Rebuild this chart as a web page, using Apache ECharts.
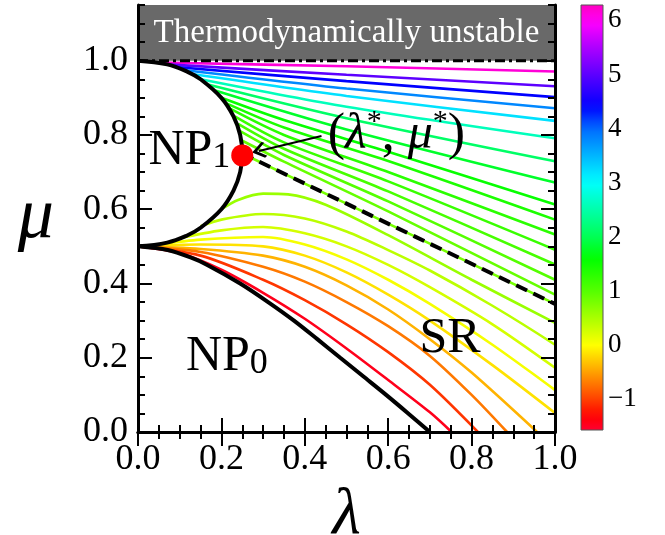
<!DOCTYPE html>
<html>
<head>
<meta charset="utf-8">
<script src="https://cdn.jsdelivr.net/npm/echarts@6/dist/echarts.min.js"></script>
<style>
html, body { margin: 0; padding: 0; background: #fff; }
#chart { width: 665px; height: 535px; }
</style>
</head>
<body>
<div id="chart"></div>
<script>
// colour value of every curve, on the colour bar scale
var upperValues = [6.15, 5.0, 4.4, 3.8, 3.2, 2.6, 2.1, 1.8, 1.55, 1.4, 1.3, 1.2, 1.1, 1.0, 0.9, 0.8];
var upperCurves = [
  [[0.05, 0.995], [0.5, 0.985], [1, 0.971]],
  [[0.07, 0.99], [0.5, 0.962], [1, 0.931]],
  [[0.09, 0.983], [0.5, 0.945], [1, 0.902]],
  [[0.11, 0.975], [0.5, 0.925], [1, 0.872]],
  [[0.13, 0.964], [0.5, 0.905], [1, 0.838]],
  [[0.15, 0.95], [0.5, 0.876], [1, 0.791]],
  [[0.17, 0.935], [0.5, 0.845], [1, 0.729]],
  [[0.185, 0.92], [0.5, 0.815], [1, 0.672]],
  [[0.2, 0.9], [0.35, 0.84], [0.6, 0.755], [1, 0.613]],
  [[0.212, 0.885], [0.35, 0.82], [0.6, 0.73], [1, 0.572]],
  [[0.222, 0.87], [0.35, 0.8], [0.6, 0.7], [1, 0.532]],
  [[0.232, 0.85], [0.35, 0.78], [0.6, 0.675], [1, 0.491]],
  [[0.24, 0.83], [0.35, 0.763], [0.6, 0.648], [1, 0.451]],
  [[0.245, 0.81], [0.35, 0.746], [0.6, 0.621], [1, 0.41]],
  [[0.249, 0.785], [0.35, 0.728], [0.6, 0.594], [1, 0.37]],
  [[0.25, 0.75], [0.6, 0.561], [1, 0.345]]
];
var lowerValues = [0.6, 0.4, 0.25, 0.05, -0.15, -0.4, -0.7, -1.05, -1.45];
var lowerCurves = [
  [[0.2, 0.6], [0.24, 0.625], [0.3, 0.642], [0.36, 0.64], [0.45, 0.612], [0.6, 0.53], [0.8, 0.41], [1, 0.294]],
  [[0.15, 0.554], [0.2, 0.572], [0.3, 0.587], [0.4, 0.575], [0.5, 0.54], [0.6, 0.49], [0.7, 0.435], [0.85, 0.34], [1, 0.235]],
  [[0.1, 0.522], [0.2, 0.543], [0.3, 0.552], [0.4, 0.535], [0.5, 0.5], [0.6, 0.45], [0.7, 0.39], [0.85, 0.29], [1, 0.173]],
  [[0.05, 0.505], [0.15, 0.518], [0.3, 0.525], [0.4, 0.505], [0.5, 0.465], [0.6, 0.41], [0.7, 0.345], [0.85, 0.235], [1, 0.113]],
  [[0, 0.5], [0.15, 0.505], [0.3, 0.5], [0.4, 0.475], [0.5, 0.43], [0.6, 0.37], [0.7, 0.3], [0.85, 0.18], [1, 0.051]],
  [[0, 0.5], [0.15, 0.493], [0.3, 0.475], [0.4, 0.445], [0.5, 0.395], [0.6, 0.33], [0.7, 0.25], [0.8, 0.16], [0.957, 0]],
  [[0, 0.5], [0.15, 0.485], [0.3, 0.445], [0.4, 0.405], [0.5, 0.35], [0.6, 0.285], [0.7, 0.205], [0.8, 0.1], [0.885, 0]],
  [[0, 0.5], [0.15, 0.475], [0.3, 0.41], [0.4, 0.355], [0.5, 0.29], [0.6, 0.215], [0.7, 0.127], [0.815, 0]],
  [[0, 0.5], [0.1, 0.482], [0.2, 0.437], [0.3, 0.375], [0.4, 0.305], [0.5, 0.225], [0.6, 0.14], [0.7, 0.053], [0.752, 0]]
];
var np1Boundary = [[0, 1], [0.07, 0.99], [0.119, 0.97], [0.15, 0.95], [0.2, 0.9], [0.229, 0.85], [0.245, 0.8],
  [0.25, 0.75], [0.245, 0.7], [0.229, 0.65], [0.2, 0.6], [0.15, 0.55], [0.119, 0.53], [0.07, 0.51], [0, 0.5]];
var np0Boundary = [[0, 0.5], [0.071, 0.49], [0.126, 0.47], [0.166, 0.45], [0.245, 0.4], [0.312, 0.35], [0.374, 0.3],
  [0.43, 0.25], [0.485, 0.2], [0.54, 0.15], [0.595, 0.1], [0.648, 0.05], [0.7, 0]];
var criticalLine = [[0.25, 0.75], [1, 0.345]];
var criticalPoint = [[0.25, 0.745]];
var unstableLine = [[0, 1], [1, 1]];
var unstableTop = 1.15;
var yMajorTicks = [0, 0.2, 0.4, 0.6, 0.8, 1.0];
var colorRange = [-Math.PI / 2, 2 * Math.PI];
var colorbarTicks = [-1, 0, 1, 2, 3, 4, 5, 6];

// colour map (hue along the colour bar)
var hueKnots = [[-1.571, -12], [-1, 15], [0, 60], [1, 100], [1.6, 120], [2, 140], [3, 180], [4, 215],
  [4.4, 240], [5, 262], [5.6, 285], [6.283, 315]];
function hueOf(v) {
  if (v <= hueKnots[0][0]) return hueKnots[0][1];
  for (var i = 1; i < hueKnots.length; i++) {
    if (v <= hueKnots[i][0]) {
      var a = hueKnots[i - 1], b = hueKnots[i];
      return a[1] + (b[1] - a[1]) * (v - a[0]) / (b[0] - a[0]);
    }
  }
  return hueKnots[hueKnots.length - 1][1];
}
function colormap(v) {
  var h = ((hueOf(v) % 360) + 360) % 360 / 60;
  var x = 1 - Math.abs(h % 2 - 1);
  var rgb = h < 1 ? [1, x, 0] : h < 2 ? [x, 1, 0] : h < 3 ? [0, 1, x] : h < 4 ? [0, x, 1] : h < 5 ? [x, 0, 1] : [1, 0, x];
  return 'rgb(' + rgb.map(function (c) { return Math.round(c * 255); }).join(',') + ')';
}

var serif = 'Liberation Serif';
var series = [];
upperCurves.forEach(function (c, i) {
  series.push({ type: 'line', data: c, showSymbol: false, smooth: 0.3, silent: true,
    lineStyle: { color: colormap(upperValues[i]), width: 2.6 } });
});
lowerCurves.forEach(function (c, i) {
  series.push({ type: 'line', data: c, showSymbol: false, smooth: 0.3, silent: true,
    lineStyle: { color: colormap(lowerValues[i]), width: 2.6 } });
});
series.push({ type: 'line', data: np1Boundary, showSymbol: false, smooth: 0.4, silent: true,
  lineStyle: { color: '#000', width: 4 } });
series.push({ type: 'line', data: np0Boundary, showSymbol: false, smooth: 0.3, silent: true,
  lineStyle: { color: '#000', width: 4 } });
series.push({ type: 'line', data: criticalLine, showSymbol: false, silent: true,
  lineStyle: { color: '#000', width: 4, type: [12, 7] } });
series.push({
  type: 'line', data: unstableLine, showSymbol: false, silent: true, z: 3,
  lineStyle: { color: '#000', width: 3, type: [10, 4, 3, 4] },
  markArea: {
    silent: true,
    itemStyle: { color: '#696969' },
    label: { show: true, position: 'inside', color: '#fff', fontFamily: serif, fontSize: 33 },
    data: [[{ yAxis: 1, name: 'Thermodynamically unstable' }, { yAxis: unstableTop }]]
  }
});
series.push({
  type: 'line', data: [], silent: true, z: 6,
  markLine: {
    silent: true, symbol: ['none', 'path://M-9,9 L0,0 L9,9 L7.5,11 L0,4 L-7.5,11 Z'], symbolSize: [16, 14],
    lineStyle: { color: '#000', width: 2, type: 'solid' }, label: { show: false },
    data: [[{ coord: [0.44, 0.797] }, { coord: [0.29, 0.757] }]]
  }
});
series.push({ type: 'scatter', data: criticalPoint, symbolSize: 22, silent: true, z: 8,
  itemStyle: { color: '#ff0000', opacity: 1 } });

function textMark(pos, text) {
  return { type: 'scatter', data: [pos], symbolSize: 0, silent: true, z: 9,
    itemStyle: { opacity: 1 },
    label: { show: true, position: 'right', distance: 0, formatter: text, color: '#000', fontFamily: serif,
      rich: {
        a: { fontSize: 50, lineHeight: 50, verticalAlign: 'top', fontFamily: serif, color: '#000' },
        b: { fontSize: 36, lineHeight: 22, verticalAlign: 'bottom', fontFamily: serif, color: '#000' },
        p: { fontSize: 52, lineHeight: 56, verticalAlign: 'middle', fontFamily: serif, color: '#000' },
        g: { fontSize: 50, lineHeight: 56, verticalAlign: 'middle', fontFamily: serif, fontStyle: 'italic', color: '#000' },
        s: { fontSize: 30, lineHeight: 28, verticalAlign: 'top', fontFamily: serif, color: '#000' }
      } } };
}
series.push(textMark([0.025, 0.757], '{a|NP}{b|1}'));
series.push(textMark([0.115, 0.203], '{a|NP}{b|0}'));
series.push(textMark([0.675, 0.25], '{a|SR}'));
series.push(textMark([0.455, 0.8], '{p|(}{g|λ}{s|*}{p|, }{g|μ}{s|*}{p|)}'));

// colour bar
var stops = [];
for (var k = 0; k <= 40; k++) {
  var v = colorRange[0] + (colorRange[1] - colorRange[0]) * k / 40;
  stops.push({ offset: k / 40, color: colormap(v) });
}
series.push({
  type: 'custom', xAxisIndex: 2, yAxisIndex: 4, data: [[0, colorRange[0], colorRange[1]]], silent: true,
  renderItem: function (params, api) {
    var p0 = api.coord([0, api.value(1)]);
    var p1 = api.coord([0, api.value(2)]);
    var cs = params.coordSys;
    return { type: 'rect', shape: { x: cs.x, y: p1[1], width: cs.width, height: p0[1] - p1[1] },
      style: { fill: new echarts.graphic.LinearGradient(0, 1, 0, 0, stops), stroke: '#555', lineWidth: 1 } };
  }
});

var tickStyle = { color: '#000', width: 2 };
var labelStyle = { fontFamily: serif, fontSize: 36, color: '#000' };
function xAx(pos, labels) {
  return { gridIndex: 0, type: 'value', min: 0, max: 1, interval: 0.2, position: pos, z: 10,
    axisLine: { show: true, lineStyle: { color: '#000', width: 3 } },
    axisTick: { show: true, inside: true, length: 14, lineStyle: tickStyle },
    minorTick: { show: true, splitNumber: 4, length: 7, lineStyle: tickStyle },
    splitLine: { show: false }, minorSplitLine: { show: false },
    axisLabel: Object.assign({ show: labels, margin: 10, formatter: function (v) { return v.toFixed(1); } }, labelStyle),
    name: labels ? 'λ' : '', nameLocation: 'middle', nameGap: 48,
    nameTextStyle: { fontFamily: serif, fontStyle: 'italic', fontSize: 66, color: '#000' } };
}
function yMajor(pos, labels) {
  return { gridIndex: 0, type: 'value', min: 0, max: unstableTop, position: pos, z: 10,
    axisLine: { show: true, lineStyle: { color: '#000', width: 3 } },
    axisTick: { show: true, inside: true, length: 14, customValues: yMajorTicks, lineStyle: tickStyle },
    splitLine: { show: false },
    axisLabel: Object.assign({ show: labels, margin: 10, customValues: yMajorTicks,
      formatter: function (v) { return v.toFixed(1); } }, labelStyle),
    name: labels ? 'μ' : '', nameLocation: 'middle', nameGap: 84, nameRotate: 0,
    nameTextStyle: { fontFamily: serif, fontStyle: 'italic', fontSize: 72, color: '#000', padding: [24, 0, 0, 0] } };
}
function yMinor(pos) {
  return { gridIndex: 0, type: 'value', min: 0, max: unstableTop, interval: 0.05, position: pos, z: 10,
    axisLine: { show: false }, axisLabel: { show: false }, splitLine: { show: false },
    axisTick: { show: true, inside: true, length: 7, lineStyle: tickStyle } };
}

var chart = echarts.init(document.getElementById('chart'));
chart.setOption({
  animation: false,
  backgroundColor: '#fff',
  grid: [
    { left: 138, top: 5, width: 417, height: 427, outerBoundsMode: 'none' },
    { left: 581, top: 5, width: 22, height: 425, outerBoundsMode: 'none' }
  ],
  xAxis: [
    xAx('bottom', true),
    xAx('top', false),
    { gridIndex: 1, type: 'value', min: -1, max: 1, show: false }
  ],
  yAxis: [
    yMajor('left', true),
    yMinor('left'),
    yMajor('right', false),
    yMinor('right'),
    { gridIndex: 1, type: 'value', min: colorRange[0], max: colorRange[1], position: 'right',
      axisLine: { show: false }, splitLine: { show: false },
      axisTick: { show: true, inside: false, length: 4, customValues: colorbarTicks, lineStyle: { color: '#333', width: 1 } },
      axisLabel: { show: true, margin: 5, customValues: colorbarTicks, fontFamily: serif, fontSize: 27, color: '#000',
        formatter: function (v) { return String(Math.round(v)).replace('-', '\u2212'); } } }
  ],
  series: series
});
</script>
</body>
</html>
